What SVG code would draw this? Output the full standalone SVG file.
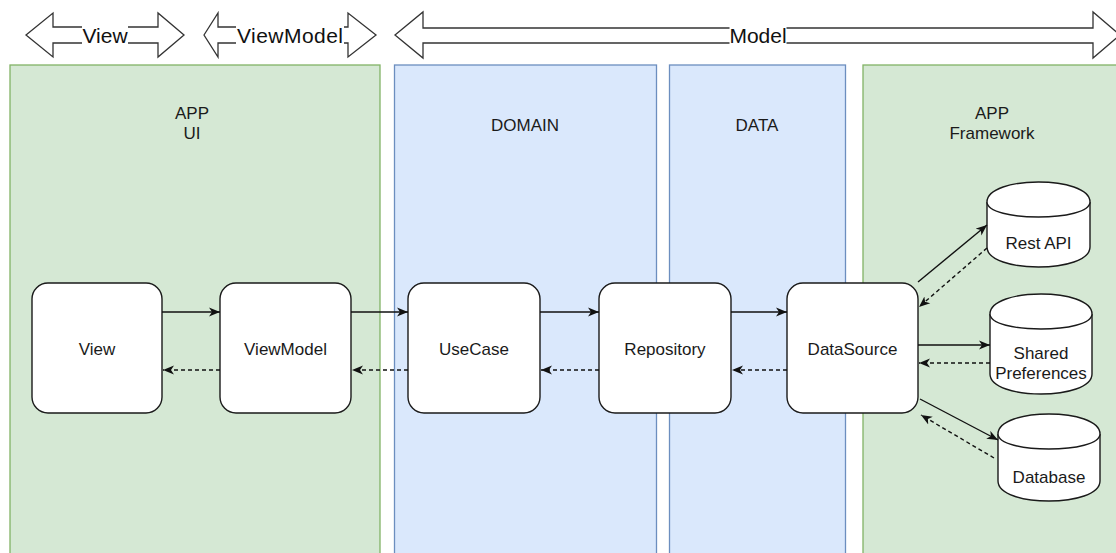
<svg xmlns="http://www.w3.org/2000/svg" width="1116" height="553" viewBox="0 0 1116 553">
<style>
.green{fill:#d5e8d4;stroke:#82b366;stroke-width:1.3}
.blue{fill:#dae8fc;stroke:#6c8ebf;stroke-width:1.3}
.node{fill:#ffffff;stroke:#1a1a1a;stroke-width:1.4}
.t{font-family:"Liberation Sans",Arial,sans-serif;font-size:17px;fill:#1a1a1a;text-anchor:middle}
.big{font-family:"Liberation Sans",Arial,sans-serif;font-size:21px;fill:#111;text-anchor:middle}
.blk{fill:#ffffff;stroke:#333;stroke-width:1.3;stroke-linejoin:miter}
.solid{fill:none;stroke:#111;stroke-width:1.4}
.dash{fill:none;stroke:#111;stroke-width:1.4;stroke-dasharray:4 3}
</style>
<defs>
<marker id="arr" markerUnits="userSpaceOnUse" markerWidth="12" markerHeight="10" refX="11" refY="5" orient="auto">
<path d="M0,0.5 L11,5 L0,9.5 L3,5 Z" fill="#111"/>
</marker>
</defs>

<g id="panel-app-ui">
<rect class="green" x="10" y="65" width="370" height="500"/>
<text class="t" x="192" y="119">APP</text>
<text class="t" x="192" y="139">UI</text>
</g>
<g id="panel-domain">
<rect class="blue" x="394.5" y="65" width="262" height="500"/>
<text class="t" x="525" y="131">DOMAIN</text>
</g>
<g id="panel-data">
<rect class="blue" x="669.5" y="65" width="176" height="500"/>
<text class="t" x="757" y="131">DATA</text>
</g>
<g id="panel-app-framework">
<rect class="green" x="863" y="65" width="260" height="500"/>
<text class="t" x="992" y="119">APP</text>
<text class="t" x="992" y="139">Framework</text>
</g>

<g id="arrow-view">
<polygon class="blk" points="26,35 53,13 53,27 158,27 158,13 184,35 158,57 158,43 53,43 53,57"/>
<rect x="82" y="26" width="46" height="19" fill="#fff"/>
<text class="big" x="105" y="43">View</text>
</g>
<g id="arrow-viewmodel">
<polygon class="blk" points="204,35 218,13 218,27 348,27 348,13 376,35 348,57 348,43 218,43 218,57"/>
<rect x="236" y="26" width="108" height="19" fill="#fff"/>
<text class="big" x="290" y="43" textLength="106" lengthAdjust="spacing">ViewModel</text>
</g>
<g id="arrow-model">
<polygon class="blk" points="395,35 423,12 423,28 1093,28 1093,12 1120,35 1093,58 1093,43 423,43 423,58"/>
<rect x="729.5" y="26" width="57" height="19" fill="#fff"/>
<text class="big" x="758" y="43">Model</text>
</g>

<g id="node-view">
<rect class="node" x="32" y="283" width="130" height="130" rx="16"/>
<text class="t" x="97" y="355">View</text>
</g>
<g id="node-viewmodel">
<rect class="node" x="220" y="283" width="131" height="130" rx="16"/>
<text class="t" x="285.5" y="355">ViewModel</text>
</g>
<g id="node-usecase">
<rect class="node" x="408" y="283" width="132" height="130" rx="16"/>
<text class="t" x="474" y="355">UseCase</text>
</g>
<g id="node-repository">
<rect class="node" x="599" y="283" width="132" height="130" rx="16"/>
<text class="t" x="665" y="355">Repository</text>
</g>
<g id="node-datasource">
<rect class="node" x="787" y="283" width="131" height="130" rx="16"/>
<text class="t" x="852.5" y="355">DataSource</text>
</g>

<g id="node-restapi" transform="translate(987,182)">
<path class="node" d="M0,20 C0,-6.7 103,-6.7 103,20 L103,65 C103,91.7 0,91.7 0,65 Z"/>
<path class="node" fill="none" d="M0,20 C0,40 103,40 103,20"/>
<text class="t" x="51.5" y="67">Rest API</text>
</g>
<g id="node-sharedpreferences" transform="translate(990,294)">
<path class="node" d="M0,20 C0,-6.7 102,-6.7 102,20 L102,80 C102,106.7 0,106.7 0,80 Z"/>
<path class="node" fill="none" d="M0,20 C0,40 102,40 102,20"/>
<text class="t" x="51" y="65">Shared</text>
<text class="t" x="51" y="85">Preferences</text>
</g>
<g id="node-database" transform="translate(998,414)">
<path class="node" d="M0,20 C0,-6.7 102,-6.7 102,20 L102,67 C102,93.7 0,93.7 0,67 Z"/>
<path class="node" fill="none" d="M0,20 C0,40 102,40 102,20"/>
<text class="t" x="51" y="69">Database</text>
</g>

<g id="connectors">
<path class="solid" marker-end="url(#arr)" d="M162,312 H220"/>
<path class="dash" marker-end="url(#arr)" d="M220,370 H163"/>
<path class="solid" marker-end="url(#arr)" d="M351,312 H408"/>
<path class="dash" marker-end="url(#arr)" d="M408,370 H352"/>
<path class="solid" marker-end="url(#arr)" d="M540,312 H599"/>
<path class="dash" marker-end="url(#arr)" d="M599,370 H541"/>
<path class="solid" marker-end="url(#arr)" d="M731,312 H787"/>
<path class="dash" marker-end="url(#arr)" d="M787,370 H732"/>
<path class="solid" marker-end="url(#arr)" d="M918,282 L987,225"/>
<path class="dash" marker-end="url(#arr)" d="M987,248 L919,307"/>
<path class="solid" marker-end="url(#arr)" d="M918,345 H990"/>
<path class="dash" marker-end="url(#arr)" d="M990,363 H919"/>
<path class="solid" marker-end="url(#arr)" d="M920,399 L998,440"/>
<path class="dash" marker-end="url(#arr)" d="M994,458 L921,415"/>
</g>
</svg>
